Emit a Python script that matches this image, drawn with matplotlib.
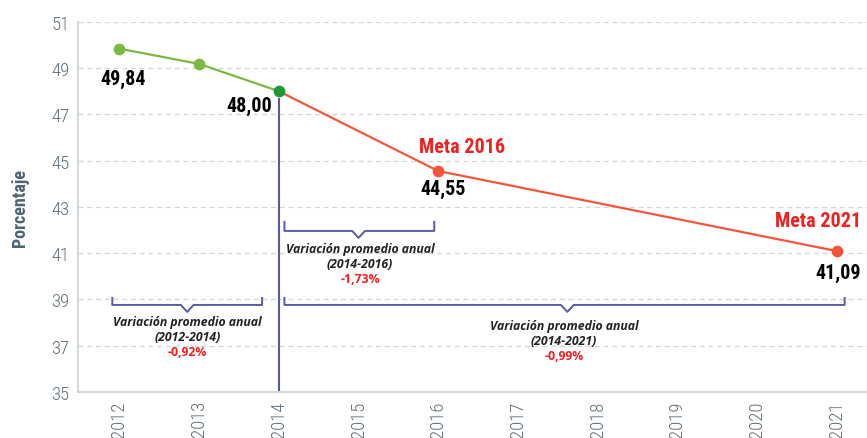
import matplotlib
matplotlib.use("Agg")
import matplotlib.pyplot as plt

years = ["2012", "2013", "2014", "2015", "2016", "2017", "2018", "2019", "2020", "2021"]
hist_idx = [0, 1, 2]
hist_vals = [49.84, 49.18, 48.00]
meta_idx = [2, 4, 9]
meta_vals = [48.00, 44.55, 41.09]
yticks = [35, 37, 39, 41, 43, 45, 47, 49, 51]

cond = "Roboto Condensed"
green = "#7DB843"
dgreen = "#1E9B2E"
red = "#F5563A"
blue = "#5A5AA0"
grey = "#5E6E78"

fig = plt.figure(figsize=(8.67, 4.39), dpi=100)
ax = fig.add_axes([0.09, 0.105, 0.91, 0.843])

ax.plot(meta_idx, meta_vals, color=red, lw=1.6, zorder=3)
ax.plot(hist_idx, hist_vals, color=green, lw=1.6, zorder=3)
ax.scatter(hist_idx[:2], hist_vals[:2], s=55, color=green, zorder=4)
ax.scatter(meta_idx[1:], meta_vals[1:], s=55, color=red, zorder=4)
ax.scatter([hist_idx[2]], [hist_vals[2]], s=55, color=dgreen, zorder=5)

ax.set_xlim(-0.52, 9.38)
ax.set_ylim(35, 51)
ax.set_yticks(yticks)
ax.set_xticks(range(len(years)))
ax.set_xticklabels(years, rotation=90)
ax.grid(axis="y", color="#D5D5D5", ls=(0, (4, 3)), lw=0.9)
ax.set_axisbelow(True)
for s in ["top", "right"]:
    ax.spines[s].set_visible(False)
for s in ["left", "bottom"]:
    ax.spines[s].set_color("#C8D2D8")
    ax.spines[s].set_linewidth(1.2)
ax.tick_params(length=0, pad=6, labelsize=13.5, labelcolor=grey)
for t in ax.get_xticklabels() + ax.get_yticklabels():
    t.set_fontfamily(cond)
    t.set_fontweight("light")
ax.set_ylabel("Porcentaje", fontsize=13, fontweight="bold", color="#4F6470",
              fontfamily=cond, labelpad=16)

# vertical divider at 2014
ax.plot([2, 2], [47.67, 35.1], color=blue, lw=1.5, zorder=2)


def bracket(x0, x1, xm, ytop, ybar, ytip):
    ax.plot([x0, x0, xm - 0.08, xm, xm + 0.08, x1, x1],
            [ytop, ybar, ybar, ytip, ybar, ybar, ytop],
            color=blue, lw=1.4, zorder=2)


def variation(x, y, period, pct):
    txt = dict(ha="center", va="center", fontsize=8.8, fontfamily="Open Sans")
    ax.text(x, y, "Variación promedio anual", style="italic",
            fontweight="bold", color="#222222", **txt)
    ax.text(x, y - 0.63, period, style="italic", fontweight="bold",
            color="#222222", **txt)
    ax.text(x, y - 1.28, pct, fontweight="bold", color="#F02020", **txt)


bracket(-0.09, 1.79, 0.85, 39.06, 38.76, 38.46)
bracket(2.07, 3.95, 3.0, 42.35, 41.96, 41.66)
bracket(2.07, 9.1, 5.62, 39.06, 38.76, 38.46)

variation(0.85, 38.03, "(2012-2014)", "-0,92%")
variation(3.02, 41.18, "(2014-2016)", "-1,73%")
variation(5.58, 37.85, "(2014-2021)", "-0,99%")

lab = dict(fontsize=14.5, fontweight="bold", fontfamily=cond, va="center")
ax.text(0.05, 48.57, "49,84", ha="center", color="black", **lab)
ax.text(1.92, 47.4, "48,00", ha="right", color="black", **lab)
ax.text(4.06, 43.8, "44,55", ha="center", color="black", **lab)
ax.text(9.02, 40.16, "41,09", ha="center", color="black", **lab)
ax.text(4.3, 45.62, "Meta 2016", ha="center", color="#F02020", **lab)
ax.text(8.77, 42.4, "Meta 2021", ha="center", color="#F02020", **lab)

fig.savefig("out.png", dpi=100)
